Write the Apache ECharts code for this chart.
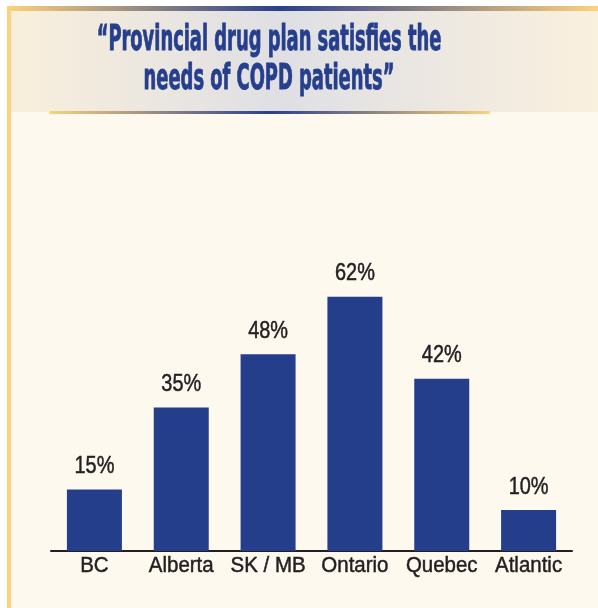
<!DOCTYPE html>
<html>
<head>
<meta charset="utf-8">
<script src="https://cdn.jsdelivr.net/npm/echarts@6/dist/echarts.min.js"></script>
<style>
  html, body { margin: 0; padding: 0; background: #ffffff; }
  #chart { width: 598px; height: 608px; }
</style>
</head>
<body>
<div id="chart"></div>
<script>
// Share of respondents agreeing, by region
const regions = ['BC', 'Alberta', 'SK / MB', 'Ontario', 'Quebec', 'Atlantic'];
const agreePct = [15, 35, 48, 62, 42, 10];
const titleLines = ['\u201CProvincial drug plan satisfies the', 'needs of COPD patients\u201D'];

const NAVY = '#253e8b';
const GOLD = '#fcd27a';
const INK = '#231f20';
const TITLE_BLUE = '#263f8d';
const HEAD_FONT = '"DejaVu Sans Condensed", "DejaVu Sans", sans-serif';
const BODY_FONT = '"Liberation Sans", Arial, sans-serif';

function goldBlueGold(center) {
  return new echarts.graphic.LinearGradient(0, 0, 1, 0, [
    { offset: 0, color: GOLD },
    { offset: center, color: '#2a3f8c' },
    { offset: 1, color: GOLD }
  ]);
}

// value labels above the bars and region names under the axis,
// set in a narrowed face via a horizontal scale
function renderLabels(params, api) {
  const idx = api.value(0);
  const val = api.value(1);
  const top = api.coord([idx, val]);
  const base = api.coord([idx, 0]);
  return {
    type: 'group',
    children: [
      {
        type: 'text', x: top[0], y: top[1] - 23, scaleX: 0.83,
        style: { text: val + '%', font: '24px ' + BODY_FONT, fill: INK,
                 stroke: INK, lineWidth: 0.5, align: 'center', verticalAlign: 'middle' }
      },
      {
        type: 'text', x: base[0], y: base[1] + 15, scaleX: 0.91,
        style: { text: regions[idx], font: '22.5px ' + BODY_FONT, fill: INK,
                 stroke: INK, lineWidth: 0.5, align: 'center', verticalAlign: 'middle' }
      }
    ]
  };
}

function titleLine(text, y) {
  return {
    type: 'text', z: 5, x: 269, y: y, scaleX: 0.568,
    style: { text: text, fill: TITLE_BLUE, stroke: TITLE_BLUE, lineWidth: 0.9,
             font: 'bold 35px ' + HEAD_FONT, textAlign: 'center', textVerticalAlign: 'middle' }
  };
}

const chart = echarts.init(document.getElementById('chart'), null, { renderer: 'canvas' });

chart.setOption({
  backgroundColor: '#ffffff',
  animation: false,
  graphic: [
    // panel background
    { type: 'rect', z: -10, shape: { x: 7, y: 6, width: 591, height: 602 }, style: { fill: '#fdf9ef' } },
    // title band
    { type: 'rect', z: -9, shape: { x: 11, y: 11, width: 587, height: 101 },
      style: { fill: new echarts.graphic.LinearGradient(0, 0, 1, 0, [
        { offset: 0, color: '#f9efdb' },
        { offset: 0.46, color: '#dfdfe4' },
        { offset: 1, color: '#faf0de' }
      ]) } },
    // left border
    { type: 'rect', z: -8, shape: { x: 7, y: 6, width: 4, height: 602 }, style: { fill: GOLD } },
    // top border
    { type: 'rect', z: -8, shape: { x: 7, y: 6, width: 591, height: 5 }, style: { fill: goldBlueGold(0.46) } },
    // rule under the title
    { type: 'rect', z: -8, shape: { x: 49, y: 111, width: 441, height: 3, r: 1.5 }, style: { fill: goldBlueGold(0.5) } },
    titleLine(titleLines[0], 41),
    titleLine(titleLines[1], 80)
  ],
  grid: { left: 51, right: 26, top: 141, bottom: 57, containLabel: false },
  xAxis: {
    type: 'category',
    data: regions,
    axisLine: { show: true, lineStyle: { color: INK, width: 2 } },
    axisTick: { show: false },
    axisLabel: { show: false }
  },
  yAxis: {
    type: 'value',
    min: 0,
    max: 100,
    show: false,
    splitLine: { show: false }
  },
  series: [
    {
      type: 'bar',
      data: agreePct,
      barWidth: 55,
      itemStyle: { color: NAVY }
    },
    {
      type: 'custom',
      clip: false,
      z: 5,
      data: agreePct.map((v, i) => [i, v]),
      renderItem: renderLabels
    }
  ]
});
</script>
</body>
</html>
